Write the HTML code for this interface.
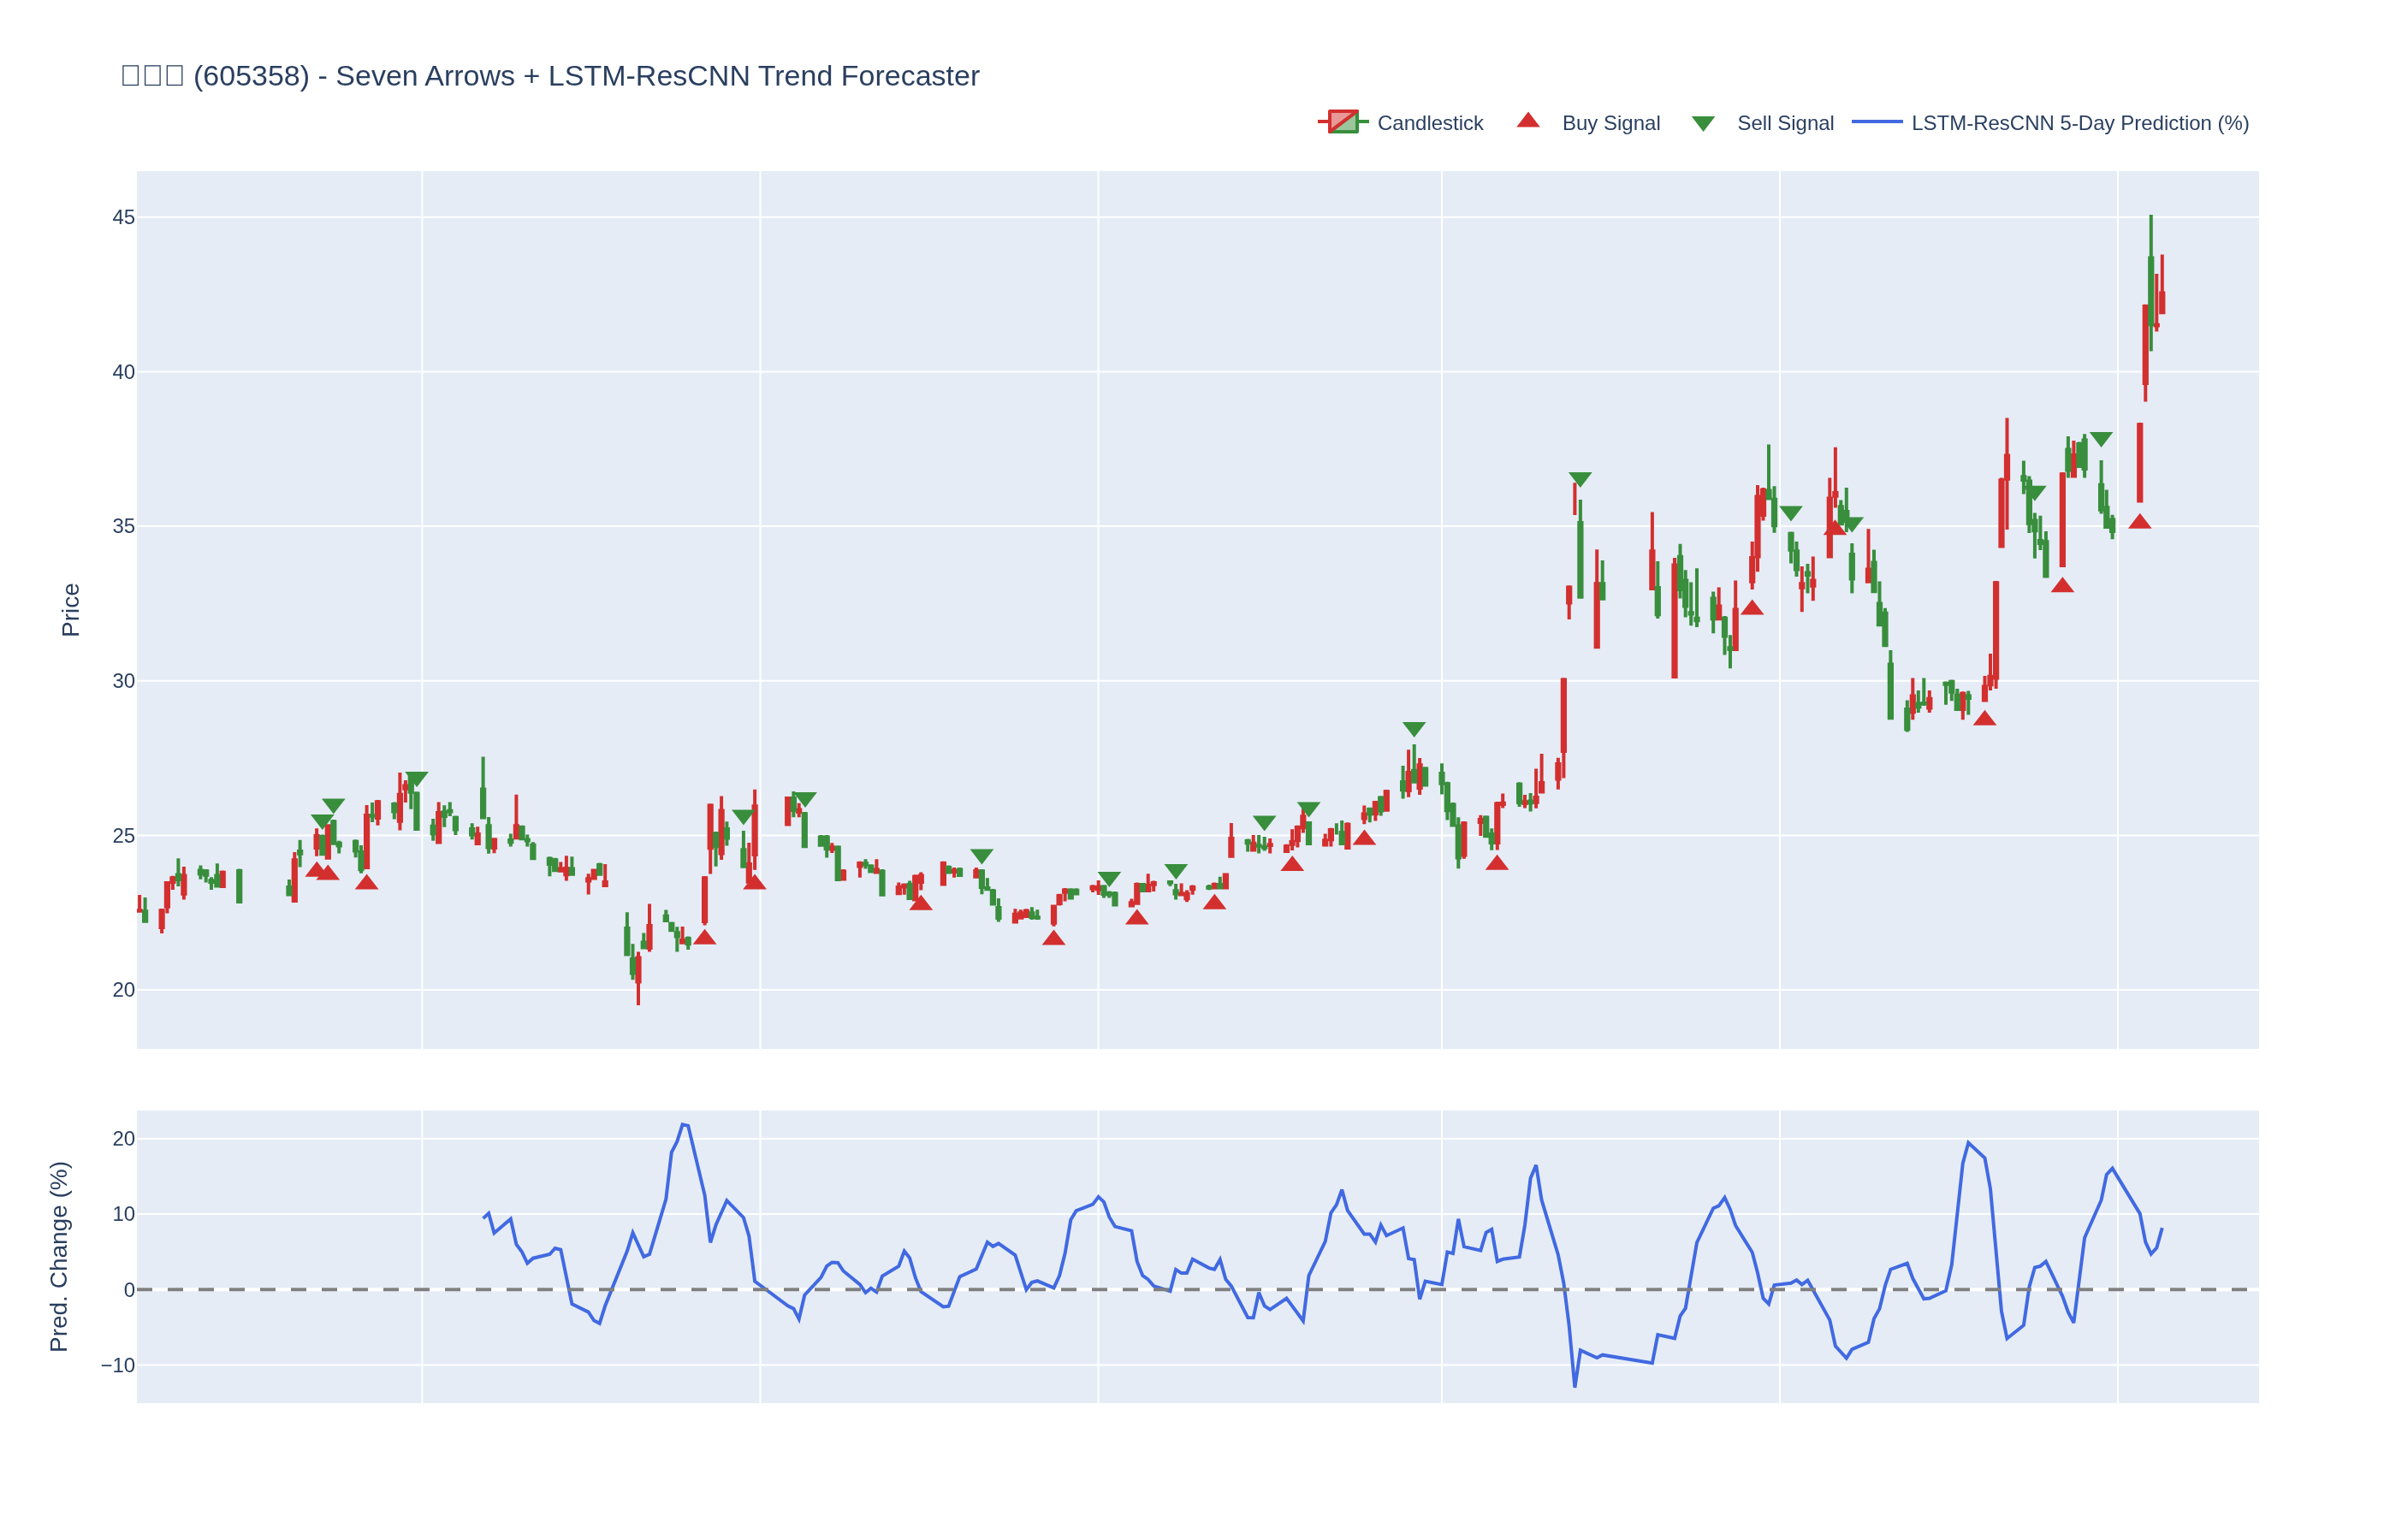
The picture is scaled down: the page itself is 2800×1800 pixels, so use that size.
<!DOCTYPE html><html><head><meta charset="utf-8"><style>html,body{margin:0;padding:0;background:#fff;overflow:hidden}</style></head><body><svg width="2800" height="1800" viewBox="0 0 2800 1800" style="display:block;will-change:transform"><rect x="0" y="0" width="2800" height="1800" fill="#fff"/><rect x="160" y="200" width="2480" height="1026" fill="#E5ECF6"/><rect x="160" y="1298" width="2480" height="342" fill="#E5ECF6"/><path d="M493.4,200V1226M493.4,1298V1640M888.5,200V1226M888.5,1298V1640M1283.5,200V1226M1283.5,1298V1640M1685.0,200V1226M1685.0,1298V1640M2080.0,200V1226M2080.0,1298V1640M2475.0,200V1226M2475.0,1298V1640M160,1157.0H2640M160,976.4H2640M160,795.7H2640M160,615.1H2640M160,434.4H2640M160,253.8H2640M160,1595.5H2640M160,1419.1H2640M160,1330.9H2640" stroke="#fff" stroke-width="2" fill="none"/><path d="M160,1507.3H2640" stroke="#fff" stroke-width="4" fill="none"/><text x="158.2" y="1165.2" font-family="&quot;Liberation Sans&quot;, sans-serif" font-size="24" fill="#2a3f5f" text-anchor="end">20</text><text x="158.2" y="984.6" font-family="&quot;Liberation Sans&quot;, sans-serif" font-size="24" fill="#2a3f5f" text-anchor="end">25</text><text x="158.2" y="803.9" font-family="&quot;Liberation Sans&quot;, sans-serif" font-size="24" fill="#2a3f5f" text-anchor="end">30</text><text x="158.2" y="623.3" font-family="&quot;Liberation Sans&quot;, sans-serif" font-size="24" fill="#2a3f5f" text-anchor="end">35</text><text x="158.2" y="442.6" font-family="&quot;Liberation Sans&quot;, sans-serif" font-size="24" fill="#2a3f5f" text-anchor="end">40</text><text x="158.2" y="262.0" font-family="&quot;Liberation Sans&quot;, sans-serif" font-size="24" fill="#2a3f5f" text-anchor="end">45</text><text x="158.2" y="1603.7" font-family="&quot;Liberation Sans&quot;, sans-serif" font-size="24" fill="#2a3f5f" text-anchor="end">−10</text><text x="158.2" y="1515.5" font-family="&quot;Liberation Sans&quot;, sans-serif" font-size="24" fill="#2a3f5f" text-anchor="end">0</text><text x="158.2" y="1427.3" font-family="&quot;Liberation Sans&quot;, sans-serif" font-size="24" fill="#2a3f5f" text-anchor="end">10</text><text x="158.2" y="1339.1" font-family="&quot;Liberation Sans&quot;, sans-serif" font-size="24" fill="#2a3f5f" text-anchor="end">20</text><text transform="translate(91.5,713) rotate(-90)" font-family="&quot;Liberation Sans&quot;, sans-serif" font-size="28" fill="#2a3f5f" text-anchor="middle">Price</text><text transform="translate(78,1469) rotate(-90)" font-family="&quot;Liberation Sans&quot;, sans-serif" font-size="28" fill="#2a3f5f" text-anchor="middle">Pred. Change (%)</text><rect x="143.9" y="76.9" width="17.5" height="22.6" fill="none" stroke="#2a3f5f" stroke-width="1.3"/><rect x="169.6" y="76.9" width="17.5" height="22.6" fill="none" stroke="#2a3f5f" stroke-width="1.3"/><rect x="195.3" y="76.9" width="17.5" height="22.6" fill="none" stroke="#2a3f5f" stroke-width="1.3"/><text x="226" y="100" font-family="&quot;Liberation Sans&quot;, sans-serif" font-size="34" fill="#2a3f5f">(605358) - Seven Arrows + LSTM-ResCNN Trend Forecaster</text><path d="M1600,142H1586M1586,130V154H1554Z" stroke="#388E3C" stroke-width="4" fill="#388E3C" fill-opacity="0.5" stroke-linejoin="round"/><path d="M1540,142H1554M1554,154V130H1586Z" stroke="#D32F2F" stroke-width="4" fill="#D32F2F" fill-opacity="0.5" stroke-linejoin="round"/><text x="1610" y="151.6" font-family="&quot;Liberation Sans&quot;, sans-serif" font-size="24" fill="#2a3f5f">Candlestick</text><path d="M1772.2,148.6H1799.8L1786,130.6Z" fill="#D32F2F"/><text x="1826" y="151.6" font-family="&quot;Liberation Sans&quot;, sans-serif" font-size="24" fill="#2a3f5f">Buy Signal</text><path d="M1976.8,136H2004.4L1990.6,154Z" fill="#388E3C"/><text x="2030.5" y="151.6" font-family="&quot;Liberation Sans&quot;, sans-serif" font-size="24" fill="#2a3f5f">Sell Signal</text><path d="M2164,142H2224" stroke="#4169E1" stroke-width="4"/><text x="2234.2" y="151.6" font-family="&quot;Liberation Sans&quot;, sans-serif" font-size="24" fill="#2a3f5f">LSTM-ResCNN 5-Day Prediction (%)</text><svg x="160" y="200" width="2480" height="1026" viewBox="160 200 2480 1026" overflow="hidden"><path d="M161.48,1064.8H164.72V1064.2H161.48ZM163.1,1064.8V1066.7M163.1,1064.2V1046.0M187.48,1084.1H190.72V1064.3H187.48ZM189.1,1084.1V1091.0M189.1,1064.3V1062.1M193.78,1059.8H197.02V1032.1H193.78ZM195.4,1059.8V1067.6M195.4,1032.1V1030.1M200.28,1031.1H203.52V1026.3H200.28ZM201.9,1031.1V1039.9M201.9,1026.3V1023.8M213.28,1044.7H216.52V1023.4H213.28ZM214.9,1044.7V1051.6M214.9,1023.4V1013.1M258.58,1035.9H261.82V1019.7H258.58ZM260.2,1035.9V1037.9M260.2,1019.7V1017.5M342.68,1053.0H345.92V1005.2H342.68ZM344.3,1053.0V1055.0M344.3,1005.2V995.9M368.48,991.0H371.72V977.0H368.48ZM370.1,991.0V1000.8M370.1,977.0V968.2M381.68,1002.7H384.92V965.5H381.68ZM383.3,1002.7V1004.7M383.3,965.5V963.3M426.98,1013.9H430.22V953.1H426.98ZM428.6,1013.9V1015.9M428.6,953.1V940.9M439.88,956.0H443.12V937.3H439.88ZM441.5,956.0V964.8M441.5,937.3V935.1M465.78,959.8H469.02V928.7H465.78ZM467.4,959.8V970.6M467.4,928.7V902.9M472.28,921.8H475.52V918.5H472.28ZM473.9,921.8V937.9M473.9,918.5V912.1M511.08,984.6H514.32V950.1H511.08ZM512.7,984.6V986.6M512.7,950.1V937.4M556.58,986.1H559.82V975.0H556.58ZM558.2,986.1V988.1M558.2,975.0V966.2M575.88,991.0H579.12V981.6H575.88ZM577.5,991.0V997.3M577.5,981.6V979.3M601.78,979.3H605.02V965.3H601.78ZM603.4,979.3V981.3M603.4,965.3V928.7M653.68,1017.8H656.92V1015.5H653.68ZM655.3,1017.8V1019.8M655.3,1015.5V1007.6M660.28,1022.2H663.52V1015.0H660.28ZM661.9,1022.2V1029.5M661.9,1015.0V1000.3M686.08,1029.5H689.32V1027.2H686.08ZM687.7,1029.5V1045.6M687.7,1027.2V1021.3M692.58,1026.6H695.82V1017.6H692.58ZM694.2,1026.6V1028.6M694.2,1017.6V1015.4M705.58,1034.9H708.82V1031.1H705.58ZM707.2,1034.9V1036.9M707.2,1031.1V1010.1M744.38,1147.6H747.62V1119.4H744.38ZM746.0,1147.6V1174.9M746.0,1119.4V1112.6M757.38,1108.1H760.62V1081.9H757.38ZM759.0,1108.1V1112.6M759.0,1081.9V1056.6M795.98,1101.8H799.22V1099.0H795.98ZM797.6,1101.8V1103.8M797.6,1099.0V1082.9M821.98,1077.0H825.22V1026.2H821.98ZM823.6,1077.0V1081.4M823.6,1026.2V1024.0M828.58,991.3H831.82V941.4H828.58ZM830.2,991.3V1021.5M830.2,941.4V939.2M841.48,997.6H844.72V947.6H841.48ZM843.1,997.6V1005.0M843.1,947.6V930.5M873.68,1030.7H876.92V1009.9H873.68ZM875.3,1030.7V1032.7M875.3,1009.9V985.0M880.48,999.1H883.72V942.2H880.48ZM882.1,999.1V1016.7M882.1,942.2V922.7M919.08,963.5H922.32V933.1H919.08ZM920.7,963.5V965.5M920.7,933.1V930.9M932.08,948.9H935.32V946.6H932.08ZM933.7,948.9V955.3M933.7,946.6V938.7M970.68,992.6H973.92V990.2H970.68ZM972.3,992.6V997.0M972.3,990.2V985.3M983.88,1027.6H987.12V1018.5H983.88ZM985.5,1027.6V1029.6M985.5,1018.5V1016.0M1003.28,1012.5H1006.52V1008.9H1003.28ZM1004.9,1012.5V1025.7M1004.9,1008.9V1006.8M1022.78,1019.4H1026.02V1016.5H1022.78ZM1024.4,1019.4V1021.4M1024.4,1016.5V1004.3M1048.68,1044.2H1051.92V1037.0H1048.68ZM1050.3,1044.2V1046.2M1050.3,1037.0V1031.6M1055.18,1036.4H1058.42V1034.8H1055.18ZM1056.8,1036.4V1045.7M1056.8,1034.8V1032.6M1068.08,1051.5H1071.32V1024.8H1068.08ZM1069.7,1051.5V1053.5M1069.7,1024.8V1022.3M1074.68,1031.1H1077.92V1023.4H1074.68ZM1076.3,1031.1V1040.4M1076.3,1023.4V1019.4M1100.78,1033.5H1104.02V1008.9H1100.78ZM1102.4,1033.5V1035.5M1102.4,1008.9V1006.8M1113.48,1018.9H1116.72V1017.5H1113.48ZM1115.1,1018.9V1025.7M1115.1,1017.5V1014.1M1139.28,1024.7H1142.52V1018.0H1139.28ZM1140.9,1024.7V1026.7M1140.9,1018.0V1014.1M1184.78,1077.6H1188.02V1068.7H1184.78ZM1186.4,1077.6V1079.6M1186.4,1068.7V1062.3M1191.18,1072.7H1194.42V1067.2H1191.18ZM1192.8,1072.7V1074.7M1192.8,1067.2V1063.2M1197.78,1071.0H1201.02V1064.8H1197.78ZM1199.4,1071.0V1073.0M1199.4,1064.8V1062.3M1229.88,1078.8H1233.12V1059.6H1229.88ZM1231.5,1078.8V1082.7M1231.5,1059.6V1057.4M1236.48,1055.9H1239.72V1046.9H1236.48ZM1238.1,1055.9V1058.4M1238.1,1046.9V1044.7M1242.98,1042.7H1246.22V1040.4H1242.98ZM1244.6,1042.7V1053.5M1244.6,1040.4V1037.9M1275.48,1038.6H1278.72V1036.8H1275.48ZM1277.1,1038.6V1043.1M1277.1,1036.8V1034.3M1282.08,1039.6H1285.32V1036.8H1282.08ZM1283.7,1039.6V1046.0M1283.7,1036.8V1029.0M1320.78,1058.6H1324.02V1055.3H1320.78ZM1322.4,1058.6V1060.6M1322.4,1055.3V1050.4M1327.18,1055.7H1330.42V1033.9H1327.18ZM1328.8,1055.7V1057.7M1328.8,1033.9V1031.4M1340.08,1041.1H1343.32V1034.9H1340.08ZM1341.7,1041.1V1043.1M1341.7,1034.9V1021.2M1346.58,1033.8H1349.82V1031.9H1346.58ZM1348.2,1033.8V1042.1M1348.2,1031.9V1029.4M1378.98,1045.5H1382.22V1044.6H1378.98ZM1380.6,1045.5V1047.5M1380.6,1044.6V1032.4M1385.38,1050.3H1388.62V1044.6H1385.38ZM1387.0,1050.3V1054.3M1387.0,1044.6V1040.6M1392.08,1039.3H1395.32V1037.0H1392.08ZM1393.7,1039.3V1045.7M1393.7,1037.0V1034.5M1417.58,1037.4H1420.82V1034.0H1417.58ZM1419.2,1037.4V1039.4M1419.2,1034.0V1031.6M1430.78,1037.4H1434.02V1022.6H1430.78ZM1432.4,1037.4V1039.4M1432.4,1022.6V1020.4M1437.28,1000.8H1440.52V980.0H1437.28ZM1438.9,1000.8V1002.8M1438.9,980.0V961.9M1463.08,993.5H1466.32V985.8H1463.08ZM1464.7,993.5V995.5M1464.7,985.8V976.0M1482.58,987.9H1485.82V987.3H1482.58ZM1484.2,987.9V997.5M1484.2,987.3V979.9M1501.88,995.0H1505.12V989.2H1501.88ZM1503.5,995.0V997.0M1503.5,989.2V986.8M1508.48,986.7H1511.72V983.9H1508.48ZM1510.1,986.7V994.1M1510.1,983.9V969.2M1514.78,982.3H1518.02V967.1H1514.78ZM1516.4,982.3V990.6M1516.4,967.1V964.8M1521.28,967.2H1524.52V954.3H1521.28ZM1522.9,967.2V973.6M1522.9,954.3V945.3M1547.08,987.6H1550.32V982.3H1547.08ZM1548.7,987.6V989.6M1548.7,982.3V974.5M1553.78,981.2H1557.02V969.9H1553.78ZM1555.4,981.2V989.6M1555.4,969.9V967.7M1573.18,991.0H1576.42V963.8H1573.18ZM1574.8,991.0V993.0M1574.8,963.8V961.3M1592.68,956.4H1595.92V951.6H1592.68ZM1594.3,956.4V963.3M1594.3,951.6V941.4M1605.78,951.1H1609.02V938.3H1605.78ZM1607.4,951.1V959.4M1607.4,938.3V936.0M1618.68,946.7H1621.92V925.3H1618.68ZM1620.3,946.7V948.7M1620.3,925.3V922.9M1644.48,923.9H1647.72V903.1H1644.48ZM1646.1,923.9V931.8M1646.1,903.1V876.3M1657.48,921.0H1660.72V894.3H1657.48ZM1659.1,921.0V928.9M1659.1,894.3V886.0M1709.28,999.6H1712.52V962.3H1709.28ZM1710.9,999.6V1003.8M1710.9,962.3V960.0M1728.68,961.0H1731.92V958.1H1728.68ZM1730.3,961.0V977.1M1730.3,958.1V952.7M1748.18,985.0H1751.42V939.6H1748.18ZM1749.8,985.0V993.4M1749.8,939.6V937.1M1754.58,940.0H1757.82V938.7H1754.58ZM1756.2,940.0V944.4M1756.2,938.7V927.4M1780.38,939.0H1783.62V937.2H1780.38ZM1782.0,939.0V944.4M1782.0,937.2V928.9M1793.48,937.8H1796.72V932.1H1793.48ZM1795.1,937.8V944.7M1795.1,932.1V898.4M1799.98,925.6H1803.22V915.0H1799.98ZM1801.6,925.6V927.6M1801.6,915.0V880.9M1819.28,910.5H1822.52V893.1H1819.28ZM1820.9,910.5V922.8M1820.9,893.1V885.7M1825.78,877.9H1829.02V794.5H1825.78ZM1827.4,877.9V909.6M1827.4,794.5V792.3M1832.08,704.6H1835.32V686.6H1832.08ZM1833.7,704.6V724.1M1833.7,686.6V684.2M1840.4,564.2V601.9M1864.58,756.2H1867.82V682.3H1864.58ZM1866.2,756.2V758.2M1866.2,682.3V642.3M1929.28,688.0H1932.52V644.3H1929.28ZM1930.9,688.0V690.0M1930.9,644.3V598.4M1955.38,790.9H1958.62V660.4H1955.38ZM1957.0,790.9V792.9M1957.0,660.4V651.9M2007.08,723.3H2010.32V708.5H2007.08ZM2008.7,723.3V725.3M2008.7,708.5V686.4M2026.58,759.0H2029.82V712.4H2026.58ZM2028.2,759.0V761.0M2028.2,712.4V678.6M2046.08,679.8H2049.32V652.0H2046.08ZM2047.7,679.8V689.0M2047.7,652.0V633.1M2052.38,650.6H2055.62V580.6H2052.38ZM2054.0,650.6V668.2M2054.0,580.6V566.9M2058.88,601.9H2062.12V572.8H2058.88ZM2060.5,601.9V608.4M2060.5,572.8V570.1M2104.18,686.7H2107.42V682.3H2104.18ZM2105.8,686.7V715.3M2105.8,682.3V662.1M2117.18,684.8H2120.42V678.4H2117.18ZM2118.8,684.8V702.3M2118.8,678.4V650.4M2136.68,650.6H2139.92V582.5H2136.68ZM2138.3,650.6V652.6M2138.3,582.5V558.4M2143.28,579.8H2146.52V576.0H2143.28ZM2144.9,579.8V593.5M2144.9,576.0V522.7M2181.88,679.8H2185.12V665.6H2181.88ZM2183.5,679.8V681.8M2183.5,665.6V618.2M2233.68,832.2H2236.92V813.4H2233.68ZM2235.3,832.2V841.3M2235.3,813.4V792.6M2253.18,827.6H2256.42V816.7H2253.18ZM2254.8,827.6V832.9M2254.8,816.7V806.9M2292.18,828.9H2295.42V810.8H2292.18ZM2293.8,828.9V841.3M2293.8,810.8V808.2M2317.88,818.5H2321.12V802.4H2317.88ZM2319.5,818.5V820.5M2319.5,802.4V790.0M2324.38,800.3H2327.62V790.7H2324.38ZM2326.0,800.3V806.9M2326.0,790.7V764.0M2330.98,792.4H2334.22V681.2H2330.98ZM2332.6,792.4V805.1M2332.6,681.2V679.0M2337.38,638.4H2340.62V561.2H2337.38ZM2339.0,638.4V640.4M2339.0,561.2V558.6M2343.88,559.8H2347.12V532.6H2343.88ZM2345.5,559.8V619.0M2345.5,532.6V488.4M2408.78,661.1H2412.02V554.3H2408.78ZM2410.4,661.1V663.1M2410.4,554.3V552.1M2421.78,556.6H2425.02V532.0H2421.78ZM2423.4,556.6V558.6M2423.4,532.0V515.1M2499.18,585.4H2502.42V496.2H2499.18ZM2500.8,585.4V587.4M2500.8,496.2V493.9M2505.68,448.0H2508.92V358.1H2505.68ZM2507.3,448.0V469.5M2507.3,358.1V355.8M2518.68,380.4H2521.92V379.8H2518.68ZM2520.3,380.4V387.5M2520.3,379.8V320.1M2525.18,365.2H2528.42V342.4H2525.18ZM2526.8,365.2V367.2M2526.8,342.4V297.4" stroke="#D32F2F" stroke-width="4" fill="#D32F2F" fill-opacity="0.5"/><path d="M167.98,1076.8H171.22V1065.2H167.98ZM169.6,1076.8V1078.8M169.6,1065.2V1049.1M206.78,1028.1H210.02V1022.4H206.78ZM208.4,1028.1V1036.0M208.4,1022.4V1003.3M232.78,1021.3H236.02V1017.5H232.78ZM234.4,1021.3V1027.7M234.4,1017.5V1011.6M239.08,1022.8H242.32V1018.3H239.08ZM240.7,1022.8V1031.6M240.7,1018.3V1016.0M245.38,1031.1H248.62V1029.2H245.38ZM247.0,1031.1V1039.9M247.0,1029.2V1025.3M252.28,1035.4H255.52V1023.4H252.28ZM253.9,1035.4V1037.4M253.9,1023.4V1009.2M278.08,1053.9H281.32V1018.0H278.08ZM279.7,1053.9V1055.9M279.7,1018.0V1015.5M336.38,1045.6H339.62V1036.9H336.38ZM338.0,1045.6V1047.6M338.0,1036.9V1028.1M348.98,997.8H352.22V995.0H348.98ZM350.6,997.8V1013.5M350.6,995.0V981.8M375.18,998.3H378.42V978.0H375.18ZM376.8,998.3V1000.3M376.8,978.0V975.5M388.18,985.7H391.42V960.4H388.18ZM389.8,985.7V987.7M389.8,960.4V958.0M394.58,988.6H397.82V985.8H394.58ZM396.2,988.6V997.4M396.2,985.8V982.8M413.98,994.4H417.22V983.8H413.98ZM415.6,994.4V1002.3M415.6,983.8V981.3M420.38,1016.3H423.62V996.0H420.38ZM422.0,1016.3V1020.8M422.0,996.0V988.1M433.48,953.8H436.72V953.2H433.48ZM435.1,953.8V960.9M435.1,953.2V938.0M459.18,948.6H462.42V939.9H459.18ZM460.8,948.6V957.4M460.8,939.9V937.4M478.68,925.7H481.92V908.0H478.68ZM480.3,925.7V945.7M480.3,908.0V905.8M485.28,969.0H488.52V927.5H485.28ZM486.9,969.0V971.0M486.9,927.5V925.3M504.58,974.4H507.82V965.7H504.58ZM506.2,974.4V982.7M506.2,965.7V956.9M517.68,953.9H520.92V949.2H517.68ZM519.3,953.9V966.7M519.3,949.2V941.3M524.18,948.6H527.42V947.7H524.18ZM525.8,948.6V954.0M525.8,947.7V937.4M530.78,969.5H534.02V955.7H530.78ZM532.4,969.5V975.9M532.4,955.7V953.5M550.08,975.4H553.32V969.1H550.08ZM551.7,975.4V981.3M551.7,969.1V962.3M562.98,955.4H566.22V922.4H562.98ZM564.6,955.4V957.4M564.6,922.4V884.4M569.48,990.5H572.72V965.2H569.48ZM571.1,990.5V997.8M571.1,965.2V955.0M595.18,984.2H598.42V981.9H595.18ZM596.8,984.2V989.6M596.8,981.9V974.5M608.38,980.3H611.62V967.1H608.38ZM610.0,980.3V982.3M610.0,967.1V964.8M614.68,982.4H617.92V981.8H614.68ZM616.3,982.4V989.6M616.3,981.8V975.5M621.28,1003.2H624.52V987.7H621.28ZM622.9,1003.2V1005.2M622.9,987.7V984.3M640.78,1010.0H644.02V1003.8H640.78ZM642.4,1010.0V1024.2M642.4,1003.8V1001.3M647.08,1017.3H650.32V1005.2H647.08ZM648.7,1017.3V1019.3M648.7,1005.2V1002.8M666.78,1021.7H670.02V1015.5H666.78ZM668.4,1021.7V1023.7M668.4,1015.5V1001.3M699.08,1021.7H702.32V1011.1H699.08ZM700.7,1021.7V1023.7M700.7,1011.1V1008.6M731.28,1115.4H734.52V1084.9H731.28ZM732.9,1115.4V1117.4M732.9,1084.9V1066.3M737.88,1137.4H741.12V1120.9H737.88ZM739.5,1137.4V1145.2M739.5,1120.9V1103.3M750.68,1107.6H753.92V1101.4H750.68ZM752.3,1107.6V1109.6M752.3,1101.4V1090.6M776.68,1076.0H779.92V1070.7H776.68ZM778.3,1076.0V1078.0M778.3,1070.7V1063.4M783.18,1087.2H786.42V1079.7H783.18ZM784.8,1087.2V1089.2M784.8,1079.7V1077.5M789.68,1094.5H792.92V1090.2H789.68ZM791.3,1094.5V1112.6M791.3,1090.2V1083.3M802.58,1103.3H805.82V1097.0H802.58ZM804.2,1103.3V1110.1M804.2,1097.0V1094.5M834.98,989.3H838.22V974.3H834.98ZM836.6,989.3V1012.8M836.6,974.3V971.9M847.78,979.6H851.02V969.0H847.78ZM849.4,979.6V988.4M849.4,969.0V960.2M867.28,1012.7H870.52V993.3H867.28ZM868.9,1012.7V1014.7M868.9,993.3V970.9M925.78,947.0H929.02V932.9H925.78ZM927.4,947.0V955.3M927.4,932.9V925.1M938.68,989.3H941.92V951.2H938.68ZM940.3,989.3V991.3M940.3,951.2V949.0M957.78,987.7H961.02V978.6H957.78ZM959.4,987.7V989.7M959.4,978.6V976.1M964.58,992.1H967.82V978.4H964.58ZM966.2,992.1V1002.4M966.2,978.4V976.1M977.58,1028.1H980.82V990.4H977.58ZM979.2,1028.1V1030.1M979.2,990.4V988.2M1009.88,1010.6H1013.12V1009.2H1009.88ZM1011.5,1010.6V1015.5M1011.5,1009.2V1004.3M1016.18,1018.4H1019.42V1012.5H1016.18ZM1017.8,1018.4V1020.4M1017.8,1012.5V1010.2M1029.38,1045.7H1032.62V1018.5H1029.38ZM1031.0,1045.7V1047.7M1031.0,1018.5V1016.0M1061.48,1050.0H1064.72V1034.1H1061.48ZM1063.1,1050.0V1052.0M1063.1,1034.1V1029.6M1106.98,1019.4H1110.22V1014.1H1106.98ZM1108.6,1019.4V1021.4M1108.6,1014.1V1011.6M1119.98,1023.1H1123.22V1016.4H1119.98ZM1121.6,1023.1V1025.1M1121.6,1016.4V1014.1M1145.78,1036.9H1149.02V1018.3H1145.78ZM1147.4,1036.9V1045.2M1147.4,1018.3V1016.0M1152.28,1039.3H1155.52V1038.0H1152.28ZM1153.9,1039.3V1041.3M1153.9,1038.0V1026.2M1158.78,1056.6H1162.02V1041.4H1158.78ZM1160.4,1056.6V1058.6M1160.4,1041.4V1039.1M1165.28,1072.9H1168.52V1060.9H1165.28ZM1166.9,1072.9V1077.4M1166.9,1060.9V1050.1M1204.28,1072.0H1207.52V1067.2H1204.28ZM1205.9,1072.0V1074.9M1205.9,1067.2V1060.3M1210.68,1072.8H1213.92V1072.2H1210.68ZM1212.3,1072.8V1074.9M1212.3,1072.2V1063.2M1249.68,1049.4H1252.92V1040.4H1249.68ZM1251.3,1049.4V1051.4M1251.3,1040.4V1038.2M1256.08,1044.5H1259.32V1040.7H1256.08ZM1257.7,1044.5V1046.5M1257.7,1040.7V1038.2M1288.38,1045.0H1291.62V1036.5H1288.38ZM1290.0,1045.0V1049.4M1290.0,1036.5V1034.3M1294.68,1045.5H1297.92V1044.1H1294.68ZM1296.3,1045.5V1049.4M1296.3,1044.1V1041.6M1301.38,1057.6H1304.62V1044.6H1301.38ZM1303.0,1057.6V1059.6M1303.0,1044.6V1042.1M1333.68,1041.1H1336.92V1034.1H1333.68ZM1335.3,1041.1V1043.1M1335.3,1034.1V1031.9M1365.88,1031.6H1369.12V1031.0H1365.88ZM1367.5,1031.6V1035.8M1367.5,1031.0V1029.0M1372.48,1044.5H1375.72V1041.2H1372.48ZM1374.1,1044.5V1051.4M1374.1,1041.2V1032.9M1411.28,1037.8H1414.52V1037.0H1411.28ZM1412.9,1037.8V1040.3M1412.9,1037.0V1034.0M1424.18,1037.4H1427.42V1034.0H1424.18ZM1425.8,1037.4V1039.4M1425.8,1034.0V1024.7M1456.58,985.2H1459.82V982.9H1456.58ZM1458.2,985.2V995.5M1458.2,982.9V980.4M1469.48,988.8H1472.72V988.2H1469.48ZM1471.1,988.8V997.5M1471.1,988.2V976.0M1476.08,990.7H1479.32V990.1H1476.08ZM1477.7,990.7V994.5M1477.7,990.1V978.0M1527.88,986.1H1531.12V962.1H1527.88ZM1529.5,986.1V988.1M1529.5,962.1V959.9M1561.9,962.3V975.5M1566.58,986.1H1569.82V973.1H1566.58ZM1568.2,986.1V988.1M1568.2,973.1V958.9M1599.18,951.5H1602.42V946.1H1599.18ZM1600.8,951.5V961.3M1600.8,946.1V943.8M1612.08,947.6H1615.32V932.6H1612.08ZM1613.7,947.6V953.5M1613.7,932.6V930.2M1637.98,923.3H1641.22V914.1H1637.98ZM1639.6,923.3V933.6M1639.6,914.1V895.1M1651.08,913.7H1654.32V900.7H1651.08ZM1652.7,913.7V915.7M1652.7,900.7V869.9M1663.98,917.6H1667.22V898.4H1663.98ZM1665.6,917.6V919.6M1665.6,898.4V896.2M1683.38,915.7H1686.62V904.1H1683.38ZM1685.0,915.7V928.4M1685.0,904.1V892.3M1689.78,947.3H1693.02V916.3H1689.78ZM1691.4,947.3V958.6M1691.4,916.3V913.8M1696.38,964.4H1699.62V940.6H1696.38ZM1698.0,964.4V966.4M1698.0,940.6V938.1M1702.68,1002.5H1705.92V965.4H1702.68ZM1704.3,1002.5V1015.2M1704.3,965.4V955.2M1735.08,977.2H1738.32V955.5H1735.08ZM1736.7,977.2V979.2M1736.7,955.5V953.2M1741.58,985.0H1744.82V975.0H1741.58ZM1743.2,985.0V993.8M1743.2,975.0V968.3M1773.98,938.1H1777.22V916.7H1773.98ZM1775.6,938.1V943.0M1775.6,916.7V914.3M1786.98,938.3H1790.22V936.4H1786.98ZM1788.6,938.3V948.6M1788.6,936.4V927.1M1845.28,697.8H1848.52V610.9H1845.28ZM1846.9,697.8V699.8M1846.9,610.9V584.0M1871.08,699.7H1874.32V682.3H1871.08ZM1872.7,699.7V701.7M1872.7,682.3V654.9M1935.68,718.2H1938.92V687.1H1935.68ZM1937.3,718.2V723.1M1937.3,687.1V655.9M1961.88,688.9H1965.12V650.7H1961.88ZM1963.5,688.9V699.4M1963.5,650.7V635.7M1968.08,708.4H1971.32V678.6H1968.08ZM1969.7,708.4V721.4M1969.7,678.6V666.2M1974.58,717.5H1977.82V716.3H1974.58ZM1976.2,717.5V731.2M1976.2,716.3V680.5M1981.38,725.3H1984.62V722.8H1981.38ZM1983.0,725.3V733.1M1983.0,722.8V664.3M2000.58,723.3H2003.82V699.4H2000.58ZM2002.2,723.3V740.3M2002.2,699.4V691.6M2013.88,743.5H2017.12V722.8H2013.88ZM2015.5,743.5V765.6M2015.5,722.8V720.1M2020.38,759.0H2023.62V757.2H2020.38ZM2022.0,759.0V781.2M2022.0,757.2V742.2M2065.38,582.4H2068.62V573.4H2065.38ZM2067.0,582.4V584.4M2067.0,573.4V519.5M2071.88,614.2H2075.12V583.8H2071.88ZM2073.5,614.2V622.7M2073.5,583.8V568.2M2091.38,642.8H2094.62V623.7H2091.38ZM2093.0,642.8V658.4M2093.0,623.7V621.4M2097.88,665.5H2101.12V644.2H2097.88ZM2099.5,665.5V674.0M2099.5,644.2V633.1M2110.88,672.0H2114.12V669.5H2110.88ZM2112.5,672.0V693.5M2112.5,669.5V659.1M2149.68,612.3H2152.92V592.3H2149.68ZM2151.3,612.3V614.3M2151.3,592.3V584.4M2156.18,608.4H2159.42V598.1H2156.18ZM2157.8,608.4V622.1M2157.8,598.1V570.1M2162.68,676.6H2165.92V648.1H2162.68ZM2164.3,676.6V693.5M2164.3,648.1V635.1M2188.38,691.2H2191.62V657.6H2188.38ZM2190.0,691.2V693.2M2190.0,657.6V642.6M2194.88,730.2H2198.12V705.6H2194.88ZM2196.5,730.2V732.2M2196.5,705.6V679.6M2201.38,754.2H2204.62V716.7H2201.38ZM2203.0,754.2V756.2M2203.0,716.7V710.8M2207.78,839.3H2211.02V776.4H2207.78ZM2209.4,839.3V841.3M2209.4,776.4V760.1M2227.18,852.3H2230.42V829.0H2227.18ZM2228.8,852.3V855.6M2228.8,829.0V818.6M2240.18,826.3H2243.42V822.5H2240.18ZM2241.8,826.3V832.9M2241.8,822.5V806.9M2246.68,822.4H2249.92V821.9H2246.68ZM2248.3,822.4V825.1M2248.3,821.9V792.6M2272.38,799.7H2275.62V798.8H2272.38ZM2274.0,799.7V823.8M2274.0,798.8V796.5M2279.18,808.8H2282.42V796.8H2279.18ZM2280.8,808.8V819.2M2280.8,796.8V794.5M2285.68,828.9H2288.92V812.8H2285.68ZM2287.3,828.9V830.9M2287.3,812.8V804.9M2298.68,815.9H2301.92V813.4H2298.68ZM2300.3,815.9V835.5M2300.3,813.4V807.5M2363.28,561.1H2366.52V557.3H2363.28ZM2364.9,561.1V577.4M2364.9,557.3V538.4M2369.78,611.8H2373.02V562.5H2369.78ZM2371.4,611.8V622.9M2371.4,562.5V556.6M2376.28,620.2H2379.52V608.6H2376.28ZM2377.9,620.2V652.7M2377.9,608.6V599.5M2382.78,635.1H2386.02V632.0H2382.78ZM2384.4,635.1V643.0M2384.4,632.0V602.7M2389.28,673.5H2392.52V633.3H2389.28ZM2390.9,673.5V675.5M2390.9,633.3V620.9M2415.28,549.4H2418.52V525.5H2415.28ZM2416.9,549.4V558.6M2416.9,525.5V509.9M2428.28,544.9H2431.52V519.0H2428.28ZM2429.9,544.9V546.9M2429.9,519.0V516.4M2434.48,548.1H2437.72V514.5H2434.48ZM2436.1,548.1V558.6M2436.1,514.5V507.3M2453.98,595.8H2457.22V566.7H2453.98ZM2455.6,595.8V600.4M2455.6,566.7V538.1M2460.18,615.9H2463.42V593.3H2460.18ZM2461.8,615.9V617.9M2461.8,593.3V572.5M2466.98,621.1H2470.22V607.6H2466.98ZM2468.6,621.1V630.3M2468.6,607.6V601.7M2512.18,379.3H2515.42V301.5H2512.18ZM2513.8,379.3V410.5M2513.8,301.5V251.1" stroke="#388E3C" stroke-width="4" fill="#388E3C" fill-opacity="0.5"/><path d="M375.9,933.6H403.7L389.8,951.6Z" fill="#388E3C"/><path d="M362.9,952.1H390.7L376.8,970.1Z" fill="#388E3C"/><path d="M356.4,1024.7H384.2L370.3,1006.7Z" fill="#D32F2F"/><path d="M369.4,1028.6H397.2L383.3,1010.6Z" fill="#D32F2F"/><path d="M414.7,1039.5H442.5L428.6,1021.5Z" fill="#D32F2F"/><path d="M473.2,902.1H501.0L487.1,920.1Z" fill="#388E3C"/><path d="M809.7,1103.8H837.5L823.6,1085.8Z" fill="#D32F2F"/><path d="M855.0,946.5H882.8L868.9,964.5Z" fill="#388E3C"/><path d="M927.1,926.1H954.9L941.0,944.1Z" fill="#388E3C"/><path d="M868.2,1039.5H896.0L882.1,1021.5Z" fill="#D32F2F"/><path d="M1062.4,1063.7H1090.2L1076.3,1045.7Z" fill="#D32F2F"/><path d="M1133.5,992.6H1161.3L1147.4,1010.6Z" fill="#388E3C"/><path d="M1217.6,1104.6H1245.4L1231.5,1086.6Z" fill="#D32F2F"/><path d="M1360.5,1010.0H1388.3L1374.4,1028.0Z" fill="#388E3C"/><path d="M1282.5,1018.9H1310.3L1296.4,1036.9Z" fill="#388E3C"/><path d="M1314.9,1080.6H1342.7L1328.8,1062.6Z" fill="#D32F2F"/><path d="M1405.5,1062.7H1433.3L1419.4,1044.7Z" fill="#D32F2F"/><path d="M1496.4,1017.9H1524.2L1510.3,999.9Z" fill="#D32F2F"/><path d="M1463.8,953.6H1491.6L1477.7,971.6Z" fill="#388E3C"/><path d="M1515.6,937.5H1543.4L1529.5,955.5Z" fill="#388E3C"/><path d="M1580.6,987.6H1608.4L1594.5,969.6Z" fill="#D32F2F"/><path d="M1638.8,844.1H1666.6L1652.7,862.1Z" fill="#388E3C"/><path d="M1735.7,1016.8H1763.5L1749.6,998.8Z" fill="#D32F2F"/><path d="M1832.9,552.0H1860.7L1846.8,570.0Z" fill="#388E3C"/><path d="M2033.8,718.4H2061.6L2047.7,700.4Z" fill="#D32F2F"/><path d="M2079.1,591.6H2106.9L2093.0,609.6Z" fill="#388E3C"/><path d="M2130.6,625.3H2158.4L2144.5,607.3Z" fill="#D32F2F"/><path d="M2150.4,604.5H2178.2L2164.3,622.5Z" fill="#388E3C"/><path d="M2305.6,847.8H2333.4L2319.5,829.8Z" fill="#D32F2F"/><path d="M2364.0,567.7H2391.8L2377.9,585.7Z" fill="#388E3C"/><path d="M2396.5,692.2H2424.3L2410.4,674.2Z" fill="#D32F2F"/><path d="M2441.7,504.9H2469.5L2455.6,522.9Z" fill="#388E3C"/><path d="M2486.9,617.7H2514.7L2500.8,599.7Z" fill="#D32F2F"/></svg><path d="M564.6,1424.1L571.1,1418.1L577.5,1441.3L596.8,1424.7L603.4,1454.5L610.0,1463.4L616.3,1476.6L622.9,1470.7L642.4,1466.0L648.7,1459.0L655.3,1460.7L668.4,1524.1L687.7,1533.6L694.2,1543.5L700.7,1546.8L707.2,1526.3L732.9,1462.3L739.5,1440.9L752.3,1468.9L759.0,1466.0L778.3,1401.6L784.8,1346.8L791.3,1334.2L797.6,1314.4L804.2,1315.9L823.6,1397.1L830.2,1452.3L836.6,1431.8L849.4,1403.3L868.9,1423.2L875.3,1444.6L882.1,1497.6L895.5,1507.5L920.7,1526.3L927.4,1529.6L933.7,1541.8L940.3,1513.7L959.4,1493.2L966.2,1479.9L972.3,1475.5L979.2,1476.0L985.5,1485.5L1004.9,1501.4L1011.5,1510.8L1017.8,1505.8L1024.4,1510.2L1031.0,1491.6L1050.3,1479.9L1056.8,1462.3L1063.1,1470.4L1069.7,1493.2L1076.3,1509.7L1102.4,1527.4L1108.6,1526.7L1121.6,1492.1L1140.9,1483.2L1153.9,1451.9L1160.4,1456.8L1166.9,1453.4L1186.4,1467.1L1199.4,1507.5L1205.9,1498.7L1212.3,1497.2L1231.5,1505.3L1238.1,1491.0L1244.6,1465.1L1251.3,1425.8L1257.7,1415.2L1277.1,1407.7L1283.7,1398.9L1290.0,1404.9L1296.3,1422.5L1303.0,1433.6L1322.4,1438.6L1328.8,1474.4L1335.3,1491.0L1341.7,1495.4L1348.2,1503.1L1367.5,1509.1L1374.1,1483.9L1380.6,1488.1L1387.0,1488.1L1393.7,1471.8L1412.9,1482.1L1419.2,1483.7L1425.8,1472.2L1432.4,1495.4L1438.9,1503.1L1458.2,1540.0L1464.7,1540.2L1471.1,1510.8L1477.7,1526.3L1484.2,1530.7L1503.5,1517.5L1522.9,1544.0L1529.5,1491.0L1548.7,1451.2L1555.4,1417.5L1561.9,1408.2L1568.2,1390.5L1574.8,1414.8L1594.3,1442.4L1600.8,1442.4L1607.4,1451.7L1613.7,1431.8L1620.3,1444.2L1639.6,1435.3L1646.1,1471.1L1652.7,1472.2L1659.1,1518.6L1665.6,1497.6L1685.0,1501.4L1691.4,1463.4L1698.0,1465.1L1704.3,1424.7L1710.9,1457.2L1730.3,1461.6L1736.7,1440.6L1743.2,1436.9L1749.8,1474.4L1756.2,1471.8L1775.6,1469.3L1782.0,1432.0L1788.6,1377.3L1795.1,1361.8L1801.6,1402.7L1820.9,1466.7L1827.4,1499.8L1833.7,1549.5L1840.4,1621.9L1846.9,1578.2L1866.2,1587.0L1872.7,1583.7L1930.9,1593.2L1937.3,1560.1L1957.0,1564.3L1963.5,1538.0L1969.7,1529.2L1983.0,1452.3L2002.2,1412.2L2008.7,1409.3L2015.5,1399.8L2022.0,1413.7L2028.2,1432.5L2047.7,1463.8L2054.0,1487.7L2060.5,1517.5L2067.0,1524.1L2073.5,1502.0L2093.0,1499.8L2099.5,1496.1L2105.8,1501.4L2112.5,1496.5L2138.3,1542.9L2144.9,1573.3L2157.8,1587.5L2164.3,1577.1L2183.5,1568.9L2190.0,1541.3L2196.5,1529.6L2203.0,1502.7L2209.4,1483.7L2228.8,1476.6L2235.3,1494.3L2248.3,1518.1L2254.8,1517.5L2274.0,1508.6L2280.8,1478.4L2293.8,1359.6L2300.3,1335.8L2319.5,1353.6L2326.0,1389.4L2339.0,1532.9L2345.5,1564.5L2364.9,1549.0L2371.4,1504.2L2377.9,1481.5L2384.4,1479.9L2390.9,1474.4L2410.4,1515.3L2416.9,1533.6L2423.4,1546.2L2436.1,1446.8L2455.6,1402.7L2461.8,1372.9L2468.6,1365.6L2500.8,1418.6L2507.3,1451.9L2513.8,1465.6L2520.3,1458.5L2526.8,1435.1" stroke="#4169E1" stroke-width="4" fill="none" stroke-miterlimit="3"/><path d="M160,1507.3H2640" stroke="gray" stroke-width="4" stroke-dasharray="18,18" fill="none"/></svg></body></html>
